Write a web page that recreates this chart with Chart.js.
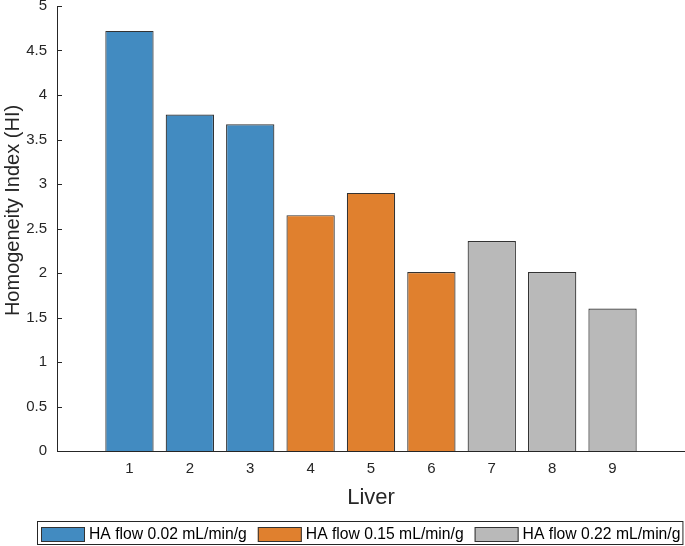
<!DOCTYPE html>
<html>
<head>
<meta charset="utf-8">
<script src="https://cdn.jsdelivr.net/npm/chart.js@4/dist/chart.umd.min.js"></script>
<style>
html,body{margin:0;padding:0;background:#fff;}
#wrap{width:685px;height:546px;}
</style>
</head>
<body>
<div id="wrap"><canvas id="c" width="685" height="546"></canvas></div>
<script>
// ---- data ----
const livers = [1, 2, 3, 4, 5, 6, 7, 8, 9];
const hiValues = [4.72, 3.78, 3.67, 2.65, 2.90, 2.01, 2.36, 2.01, 1.60];
const groupOfLiver = [0, 0, 0, 1, 1, 1, 2, 2, 2];
const groupLabels = ['HA flow 0.02 mL/min/g', 'HA flow 0.15 mL/min/g', 'HA flow 0.22 mL/min/g'];
const yTicks = [0, 0.5, 1, 1.5, 2, 2.5, 3, 3.5, 4, 4.5, 5];
const xTicks = livers;
const yTitle = 'Homogeneity Index (HI)';
const xTitle = 'Liver';

const colors = ['#428BC1', '#E0802E', '#B9B9B9'];
const FONT = "'Liberation Sans', Arial, Helvetica, sans-serif";
const AX = '#262626';

const datasets = groupLabels.map((lab, g) => ({
  label: lab,
  data: livers.map((l, i) => ({x: l, y: hiValues[i]})).filter((p, i) => groupOfLiver[i] === g),
  backgroundColor: colors[g],
  borderColor: '#333333',
  borderWidth: 1.2,
  borderSkipped: 'bottom',
  grouped: false,
  categoryPercentage: 0.8,
  barPercentage: 1.0
}));

const axesExtras = {
  id: 'axesExtras',
  afterDatasetsDraw(chart) {
    const ctx = chart.ctx, y = chart.scales.y, ca = chart.chartArea;
    ctx.save();
    ctx.strokeStyle = AX; ctx.lineWidth = 1;
    // bottom axis line across the full plot width
    const by = Math.round(ca.bottom) + 0.5;
    ctx.beginPath(); ctx.moveTo(ca.left, by); ctx.lineTo(ca.right, by); ctx.stroke();
    // inward y tick marks
    y.ticks.forEach(t => {
      const py = Math.round(y.getPixelForValue(t.value)) + 0.5;
      ctx.beginPath(); ctx.moveTo(ca.left, py); ctx.lineTo(ca.left + 5, py); ctx.stroke();
    });
    // y axis title (MATLAB places it slightly above the axis middle here)
    ctx.font = '20px ' + FONT;
    ctx.fillStyle = AX;
    ctx.textAlign = 'center';
    ctx.textBaseline = 'middle';
    ctx.translate(13, (ca.top + ca.bottom) / 2 - 18);
    ctx.rotate(-Math.PI / 2);
    ctx.fillText(yTitle, 0, 0);
    ctx.restore();
  }
};

const boxedLegend = {
  id: 'boxedLegend',
  afterDraw(chart) {
    const ctx = chart.ctx;
    ctx.save();
    ctx.font = '15.7px ' + FONT;
    ctx.textBaseline = 'middle';
    let x = 41; const top = 527, bw = 44, bh = 15;
    let end = x;
    chart.data.datasets.forEach(ds => {
      ctx.fillStyle = ds.backgroundColor;
      ctx.fillRect(x, top, bw, bh);
      ctx.strokeStyle = '#333'; ctx.lineWidth = 1;
      ctx.strokeRect(x + 0.5, top + 0.5, bw - 1, bh - 1);
      ctx.fillStyle = '#000';
      ctx.fillText(ds.label, x + bw + 4, top + bh / 2 + 0.5);
      end = x + bw + 4 + ctx.measureText(ds.label).width;
      x = end + 11;
    });
    ctx.strokeStyle = AX; ctx.lineWidth = 1;
    ctx.strokeRect(37.5, 521.5, end + 2 - 37, 23);
    ctx.restore();
  }
};

const zeroPad = s => { s.paddingLeft = 0; s.paddingRight = 0; s.paddingTop = 0; s.paddingBottom = 0; };

new Chart(document.getElementById('c'), {
  type: 'bar',
  data: { datasets },
  options: {
    responsive: false,
    devicePixelRatio: 1,
    animation: false,
    layout: { padding: { top: 6, right: 0, bottom: 35, left: 0 } },
    plugins: { legend: { display: false }, tooltip: { enabled: false } },
    scales: {
      x: {
        type: 'linear',
        offset: false,
        min: -0.2, max: 10.2,
        afterBuildTicks: s => { s.ticks = xTicks.map(v => ({value: v})); },
        afterFit: s => { s.height = 60; zeroPad(s); },
        grid: { display: false, drawTicks: false },
        border: { display: false },
        ticks: { color: AX, font: { family: FONT, size: 15 }, padding: 9, autoSkip: false, maxRotation: 0,
                 callback: v => String(v) },
        title: { display: true, text: xTitle, color: AX, font: { family: FONT, size: 22 }, padding: { top: 0, bottom: 0 } }
      },
      y: {
        min: 0, max: 5,
        afterBuildTicks: s => { s.ticks = yTicks.map(v => ({value: v})); },
        afterFit: s => { s.width = 57; zeroPad(s); },
        grid: { display: false, drawTicks: false },
        border: { display: true, color: AX, width: 1 },
        ticks: { color: AX, font: { family: FONT, size: 15 }, padding: 10, callback: v => String(v) },
        title: { display: false }
      }
    }
  },
  plugins: [axesExtras, boxedLegend]
});
</script>
</body>
</html>
